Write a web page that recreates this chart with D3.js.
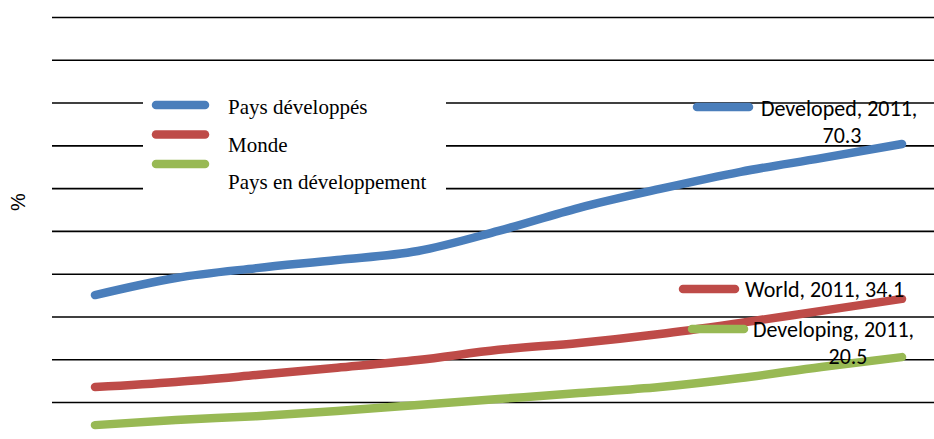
<!DOCTYPE html>
<html>
<head>
<meta charset="utf-8">
<script src="https://cdn.jsdelivr.net/npm/d3@7"></script>
<style>
  body { margin: 0; background: #fff; }
  svg { display: block; }
</style>
</head>
<body>
<svg id="chart"></svg>
<script>
// data (%), 2001-2011
const years = [2001, 2002, 2003, 2004, 2005, 2006, 2007, 2008, 2009, 2010, 2011];
const developed = [35.0, 39.0, 41.3, 43.2, 45.3, 50.0, 55.4, 59.8, 63.8, 67.0, 70.3];
const world = [13.5, 14.7, 16.3, 18.0, 19.8, 22.2, 23.8, 25.9, 28.5, 31.3, 34.1];
const developing = [4.6, 5.8, 6.7, 7.9, 9.3, 10.7, 12.1, 13.5, 15.6, 18.2, 20.5];
const gridValues = [10, 20, 30, 40, 50, 60, 70, 80, 90, 100];

const legendNames = ['Pays développés', 'Monde', 'Pays en développement'];
const labelNames = ['Developed', 'World', 'Developing'];
const colors = ['#4a7ebb', '#be4b48', '#98b954'];

const width = 934, height = 439;
const svg = d3.select('#chart').attr('width', width).attr('height', height);

const plot = { left: 52, right: 934 };
const x = d3.scaleLinear().domain([2001, 2011]).range([95, 902]);
const y = d3.scaleLinear().domain([0, 100]).range([444.8, 17]);

// gridlines
const grid = svg.append('g')
    .attr('transform', `translate(${plot.left},0)`)
    .call(d3.axisLeft(y)
        .tickValues(gridValues)
        .tickSize(-(plot.right - plot.left))
        .tickFormat(''));
grid.select('.domain').remove();
grid.selectAll('.tick line').attr('stroke', '#000').attr('stroke-width', 1.6);

// y axis title
svg.append('text')
    .attr('transform', 'translate(25,202) rotate(-90)')
    .attr('text-anchor', 'middle')
    .style('font-family', 'Liberation Sans, Arial, sans-serif')
    .style('font-size', '20px')
    .text('%');

const series = [developed, world, developing];

const line = d3.line()
    .x((d, i) => x(years[i]))
    .y(d => y(d))
    .curve(d3.curveMonotoneX);

svg.append('g').selectAll('path')
    .data(series)
    .join('path')
    .attr('d', line)
    .attr('fill', 'none')
    .attr('stroke', (d, i) => colors[i])
    .attr('stroke-width', 8.5)
    .attr('stroke-linecap', 'round')
    .attr('stroke-linejoin', 'round');

// legend
const legend = svg.append('g');
legend.append('rect')
    .attr('x', 143).attr('y', 90)
    .attr('width', 303).attr('height', 106)
    .attr('fill', '#fff');

const keyY = [105, 134.5, 164];
const textY = [114, 152, 189];
legendNames.forEach((name, i) => {
    legend.append('line')
        .attr('x1', 156).attr('x2', 205)
        .attr('y1', keyY[i]).attr('y2', keyY[i])
        .attr('stroke', colors[i])
        .attr('stroke-width', 8.5)
        .attr('stroke-linecap', 'round');
    legend.append('text')
        .attr('x', 228).attr('y', textY[i])
        .style('font-family', 'Liberation Serif, Times New Roman, serif')
        .style('font-size', '21px')
        .text(name);
});

// end-of-series data labels
const last = years.length - 1;
const labelFont = 'Carlito, Calibri, Liberation Sans, Arial, sans-serif';
const labels = [
    { key: 697, keyY: 107, lines: [[761, 116, 'start', `${labelNames[0]}, ${years[last]},`], [842, 143, 'middle', developed[last].toFixed(1)]] },
    { key: 683, keyY: 289, lines: [[745, 297, 'start', `${labelNames[1]}, ${years[last]}, ${world[last].toFixed(1)}`]] },
    { key: 692, keyY: 329, lines: [[753, 337, 'start', `${labelNames[2]}, ${years[last]},`], [848, 364, 'middle', developing[last].toFixed(1)]] }
];
labels.forEach((lab, i) => {
    const g = svg.append('g');
    g.append('line')
        .attr('x1', lab.key).attr('x2', lab.key + 52)
        .attr('y1', lab.keyY).attr('y2', lab.keyY)
        .attr('stroke', colors[i])
        .attr('stroke-width', 8.5)
        .attr('stroke-linecap', 'round');
    lab.lines.forEach(l => {
        g.append('text')
            .attr('x', l[0]).attr('y', l[1])
            .attr('text-anchor', l[2])
            .style('font-family', labelFont)
            .style('font-size', '22px')
            .text(l[3]);
    });
});
</script>
</body>
</html>
